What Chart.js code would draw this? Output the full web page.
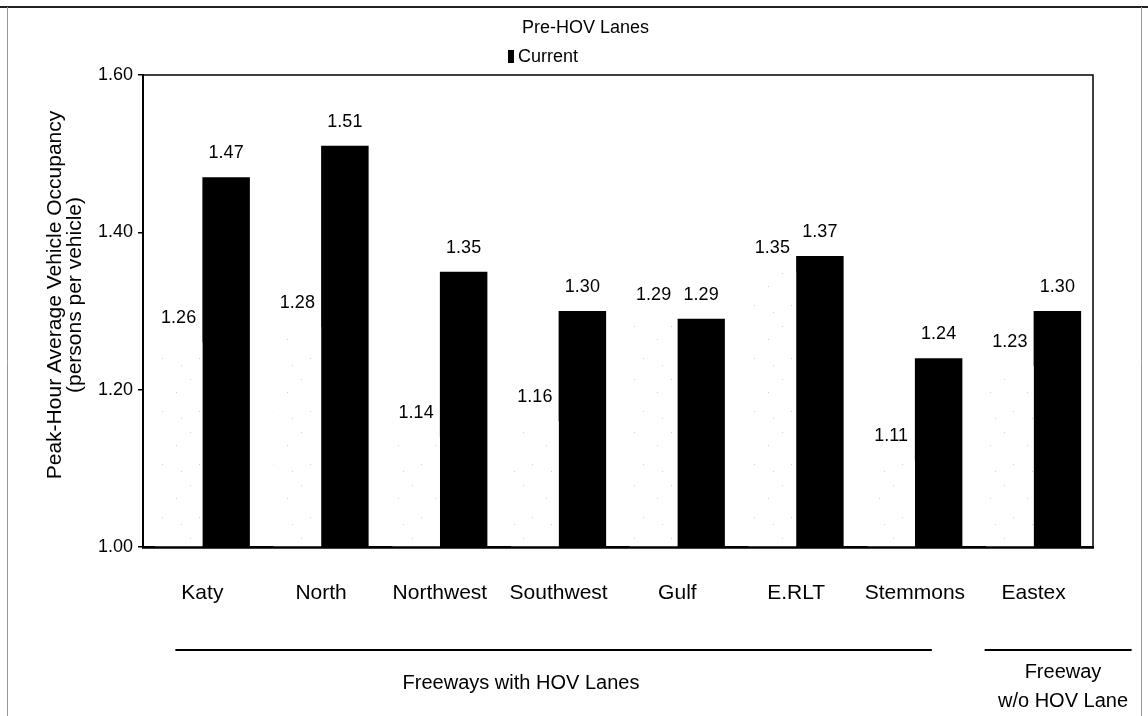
<!DOCTYPE html>
<html><head><meta charset="utf-8">
<script src="https://cdn.jsdelivr.net/npm/chart.js@4.4.1/dist/chart.umd.min.js"></script>
<style>html,body{margin:0;padding:0;background:#fff;}#wrap{width:1148px;height:716px;}</style>
</head><body><div id="wrap"><canvas id="c" width="1148" height="716"></canvas></div>
<script>
const categories = ['Katy','North','Northwest','Southwest','Gulf','E.RLT','Stemmons','Eastex'];
const preHov = [1.26,1.28,1.14,1.16,1.29,1.35,1.11,1.23];
const current = [1.47,1.51,1.35,1.30,1.29,1.37,1.24,1.30];
const seriesNames = ['Pre-HOV Lanes','Current'];
const yTicks = [1.00,1.20,1.40,1.60];
const yTitle = ['Peak-Hour Average Vehicle Occupancy','(persons per vehicle)'];
const groupNames = [['Freeways with HOV Lanes'],['Freeway','w/o HOV Lane']];
const groupRanges = [[0,6],[7,7]];

const FONT = '"Liberation Sans", Arial, sans-serif';

// sparse speckled fill for the Pre-HOV bars
function speckle(){
  const p = document.createElement('canvas'); p.width = 37; p.height = 53;
  const g = p.getContext('2d');
  g.fillStyle = '#fff'; g.fillRect(0,0,37,53);
  g.fillStyle = '#cfcfcf';
  [[5,8],[28,21],[14,40],[33,47]].forEach(([x,y])=>g.fillRect(x,y,1,1));
  return g.createPattern(p,'repeat');
}
const ctx0 = document.getElementById('c').getContext('2d');
const preFill = speckle();

const valueLabels = {
  id:'valueLabels',
  afterDatasetsDraw(chart){
    const c = chart.ctx, a = chart.chartArea;
    c.save();
    // redraw the category axis line over the bars
    c.strokeStyle = '#000'; c.lineWidth = 2.5;
    c.beginPath(); c.moveTo(a.left - 1, a.bottom + 0.5); c.lineTo(a.right + 1, a.bottom + 0.5); c.stroke();
    c.font = '18px ' + FONT; c.fillStyle = '#000';
    c.textAlign = 'center'; c.textBaseline = 'middle';
    chart.data.datasets.forEach((ds,di)=>{
      chart.getDatasetMeta(di).data.forEach((bar,i)=>{
        c.fillText(ds.data[i].toFixed(2), bar.x, bar.y - 24);
      });
    });
    c.restore();
  }
};

const decorations = {
  id:'decorations',
  afterDraw(chart){
    const c = chart.ctx, a = chart.chartArea, xs = chart.scales.x;
    c.save();
    // outer frame
    c.strokeStyle = '#222'; c.lineWidth = 2;
    c.beginPath(); c.moveTo(0,7); c.lineTo(1148,7); c.stroke();
    c.strokeStyle = '#999'; c.lineWidth = 1;
    c.beginPath(); c.moveTo(7.5,7); c.lineTo(7.5,716); c.stroke();
    c.beginPath(); c.moveTo(1141.5,7); c.lineTo(1141.5,716); c.stroke();
    // plot frame top & right
    c.strokeStyle = '#000'; c.lineWidth = 1.5;
    c.beginPath(); c.moveTo(a.left, a.top); c.lineTo(a.right, a.top); c.lineTo(a.right, a.bottom); c.stroke();
    // y-axis title
    c.fillStyle = '#000';
    c.save();
    c.translate(0, 295); c.rotate(-Math.PI/2);
    c.font = '21px ' + FONT; c.textAlign = 'center'; c.textBaseline = 'middle';
    c.fillText(yTitle[0], 0, 55);
    c.fillText(yTitle[1], 0, 75);
    c.restore();
    // legend
    c.textBaseline = 'middle'; c.textAlign = 'left';
    c.font = '18px ' + FONT;
    c.fillText(chart.data.datasets[0].label, 522, 28);
    c.fillRect(508, 50, 6, 13);
    c.fillText(chart.data.datasets[1].label, 518, 57);
    // group brackets
    const lineSpans = [[-27, 17],[-49, 98]];
    const textPos = [[521,[683]],[1063,[672,701]]];
    c.lineWidth = 2; c.strokeStyle = '#000';
    c.font = '20px ' + FONT; c.textAlign = 'center';
    groupRanges.forEach((r,gi)=>{
      const x0 = xs.getPixelForValue(r[0]) + lineSpans[gi][0];
      const x1 = xs.getPixelForValue(r[1]) + lineSpans[gi][1];
      c.beginPath(); c.moveTo(x0,650); c.lineTo(x1,650); c.stroke();
      groupNames[gi].forEach((t,li)=>c.fillText(t, textPos[gi][0], textPos[gi][1][li]));
    });
    c.restore();
  }
};

new Chart(ctx0, {
  type:'bar',
  data:{
    labels: categories,
    datasets:[
      {label: seriesNames[0], data: preHov, backgroundColor: preFill, borderWidth:0},
      {label: seriesNames[1], data: current, backgroundColor:'#000', borderWidth:0}
    ]
  },
  options:{
    responsive:false, animation:false,
    layout:{padding:{top:75,right:55,bottom:109,left:0}},
    datasets:{bar:{categoryPercentage:0.8, barPercentage:1.0}},
    plugins:{legend:{display:false}, tooltip:{enabled:false}, title:{display:false}},
    scales:{
      x:{
        grid:{display:false, drawTicks:false},
        border:{display:true, color:'#000', width:2},
        ticks:{color:'#000', font:{family:FONT, size:21}, padding:34, maxRotation:0, autoSkip:false},
        afterFit(s){ s.height = 60; }
      },
      y:{
        min:1, max:1.6,
        afterBuildTicks(s){ s.ticks = yTicks.map(v=>({value:v})); },
        grid:{display:true, drawOnChartArea:false, drawTicks:true, tickLength:5, color:'#000', lineWidth:1.5},
        border:{display:true, color:'#000', width:2},
        ticks:{color:'#000', font:{family:FONT, size:18}, padding:5, callback:v=>Number(v).toFixed(2)},
        afterFit(s){ s.width = 143; }
      }
    }
  },
  plugins:[valueLabels, decorations]
});
</script>
</body></html>
